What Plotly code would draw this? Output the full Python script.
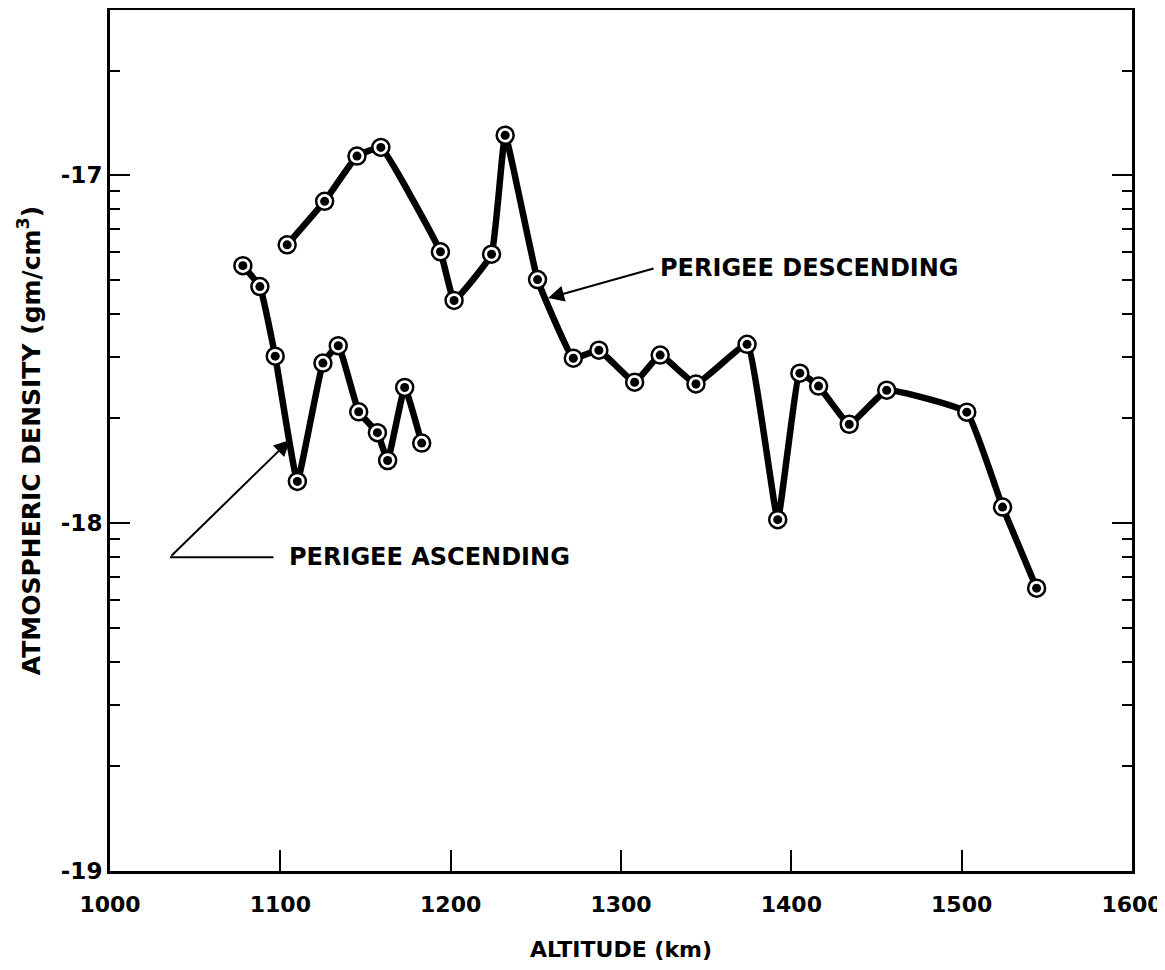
import numpy as np
import plotly.graph_objects as go

# Perigee ascending (altitude km, log10 density g/cm^3)
asc_alt = [1078, 1088, 1097, 1110, 1125, 1134, 1146, 1157, 1163, 1173, 1183]
asc_den = [-17.26, -17.32, -17.52, -17.88, -17.54, -17.49, -17.68, -17.74, -17.82, -17.61, -17.77]

# Perigee descending
desc_alt = [1104, 1126, 1145, 1159, 1194, 1202, 1224, 1232, 1251, 1272, 1287, 1308, 1323,
            1344, 1374, 1392, 1405, 1416, 1434, 1456, 1503, 1524, 1544]
desc_den = [-17.20, -17.075, -16.945, -16.92, -17.22, -17.36, -17.227, -16.885, -17.30, -17.526,
            -17.503, -17.595, -17.517, -17.60, -17.486, -17.99, -17.569, -17.606, -17.716,
            -17.618, -17.681, -17.954, -18.187]

x_ticks = [1000, 1100, 1200, 1300, 1400, 1500, 1600]
y_ticks = [-19, -18, -17]
y_tick_labels = ["-19", "-18", "-17"]

FONT = "DejaVu Sans"

minor_vals = []
for dec in [-19, -18, -17]:
    for k in range(2, 10):
        v = dec + np.log10(k)
        if v < -16.52:
            minor_vals.append(v)

fig = go.Figure()

for xs, ys in [(asc_alt, asc_den), (desc_alt, desc_den)]:
    fig.add_trace(go.Scatter(x=xs, y=ys, mode="lines",
                             line=dict(color="black", width=6.5, shape="spline", smoothing=0.3),
                             hoverinfo="skip", showlegend=False))
    fig.add_trace(go.Scatter(x=xs, y=ys, mode="markers",
                             marker=dict(size=17, color="white", line=dict(color="black", width=2.5)),
                             showlegend=False))
    fig.add_trace(go.Scatter(x=xs, y=ys, mode="markers",
                             marker=dict(size=9, color="black"),
                             showlegend=False))

# Labels and arrows
fig.add_annotation(x=1257.2, y=-17.353, ax=1320, ay=-17.267, axref="x", ayref="y",
                   xref="x", yref="y", text="", showarrow=True, arrowhead=2,
                   arrowsize=1.6, arrowwidth=2, arrowcolor="black")
fig.add_annotation(x=1322, y=-17.267, xref="x", yref="y", text="PERIGEE DESCENDING",
                   showarrow=False, xanchor="left",
                   font=dict(family=FONT, size=24, color="black", weight="bold"))

fig.add_annotation(x=1105.7, y=-17.761, ax=1035.2, ay=-18.098, axref="x", ayref="y",
                   xref="x", yref="y", text="", showarrow=True, arrowhead=2,
                   arrowsize=1.6, arrowwidth=2, arrowcolor="black")
fig.add_shape(type="line", x0=1035.2, x1=1096.0, y0=-18.098, y1=-18.098,
              xref="x", yref="y", line=dict(color="black", width=2))
fig.add_annotation(x=1104, y=-18.098, xref="x", yref="y", text="PERIGEE ASCENDING",
                   showarrow=False, xanchor="left",
                   font=dict(family=FONT, size=24, color="black", weight="bold"))

# The page body adds an 8 px offset; the size and margins compensate for it.
fig.update_layout(
    width=1157, height=962,
    margin=dict(l=102, r=33, t=2, b=99),
    paper_bgcolor="white", plot_bgcolor="white",
    showlegend=False,
    xaxis=dict(range=[1000, 1600], tickvals=x_ticks, ticktext=[str(v) for v in x_ticks],
               automargin=False, ticklabelstandoff=12,
               ticks="inside", ticklen=21, tickwidth=2, tickcolor="black",
               showline=True, linecolor="black", linewidth=3, mirror=True,
               showgrid=False, zeroline=False,
               tickfont=dict(family=FONT, size=22, color="black", weight="bold"),
               title=dict(text="ALTITUDE (km)", standoff=26,
                          font=dict(family=FONT, size=22, color="black", weight="bold"))),
    yaxis=dict(range=[-19, -16.525], tickvals=y_ticks, ticktext=y_tick_labels,
               automargin=False,
               ticks="inside", ticklen=20, tickwidth=2, tickcolor="black",
               showline=True, linecolor="black", linewidth=3, mirror="ticks",
               showgrid=False, zeroline=False,
               minor=dict(tickmode="array", tickvals=minor_vals, ticks="inside",
                          ticklen=10, tickwidth=2, tickcolor="black", showgrid=False),
               tickfont=dict(family=FONT, size=23, color="black", weight="bold"),
               title=dict(text="ATMOSPHERIC DENSITY (gm/cm<sup>3</sup>)", standoff=14,
                          font=dict(family=FONT, size=25, color="black", weight="bold"))),
)

fig.write_html("out.html")
